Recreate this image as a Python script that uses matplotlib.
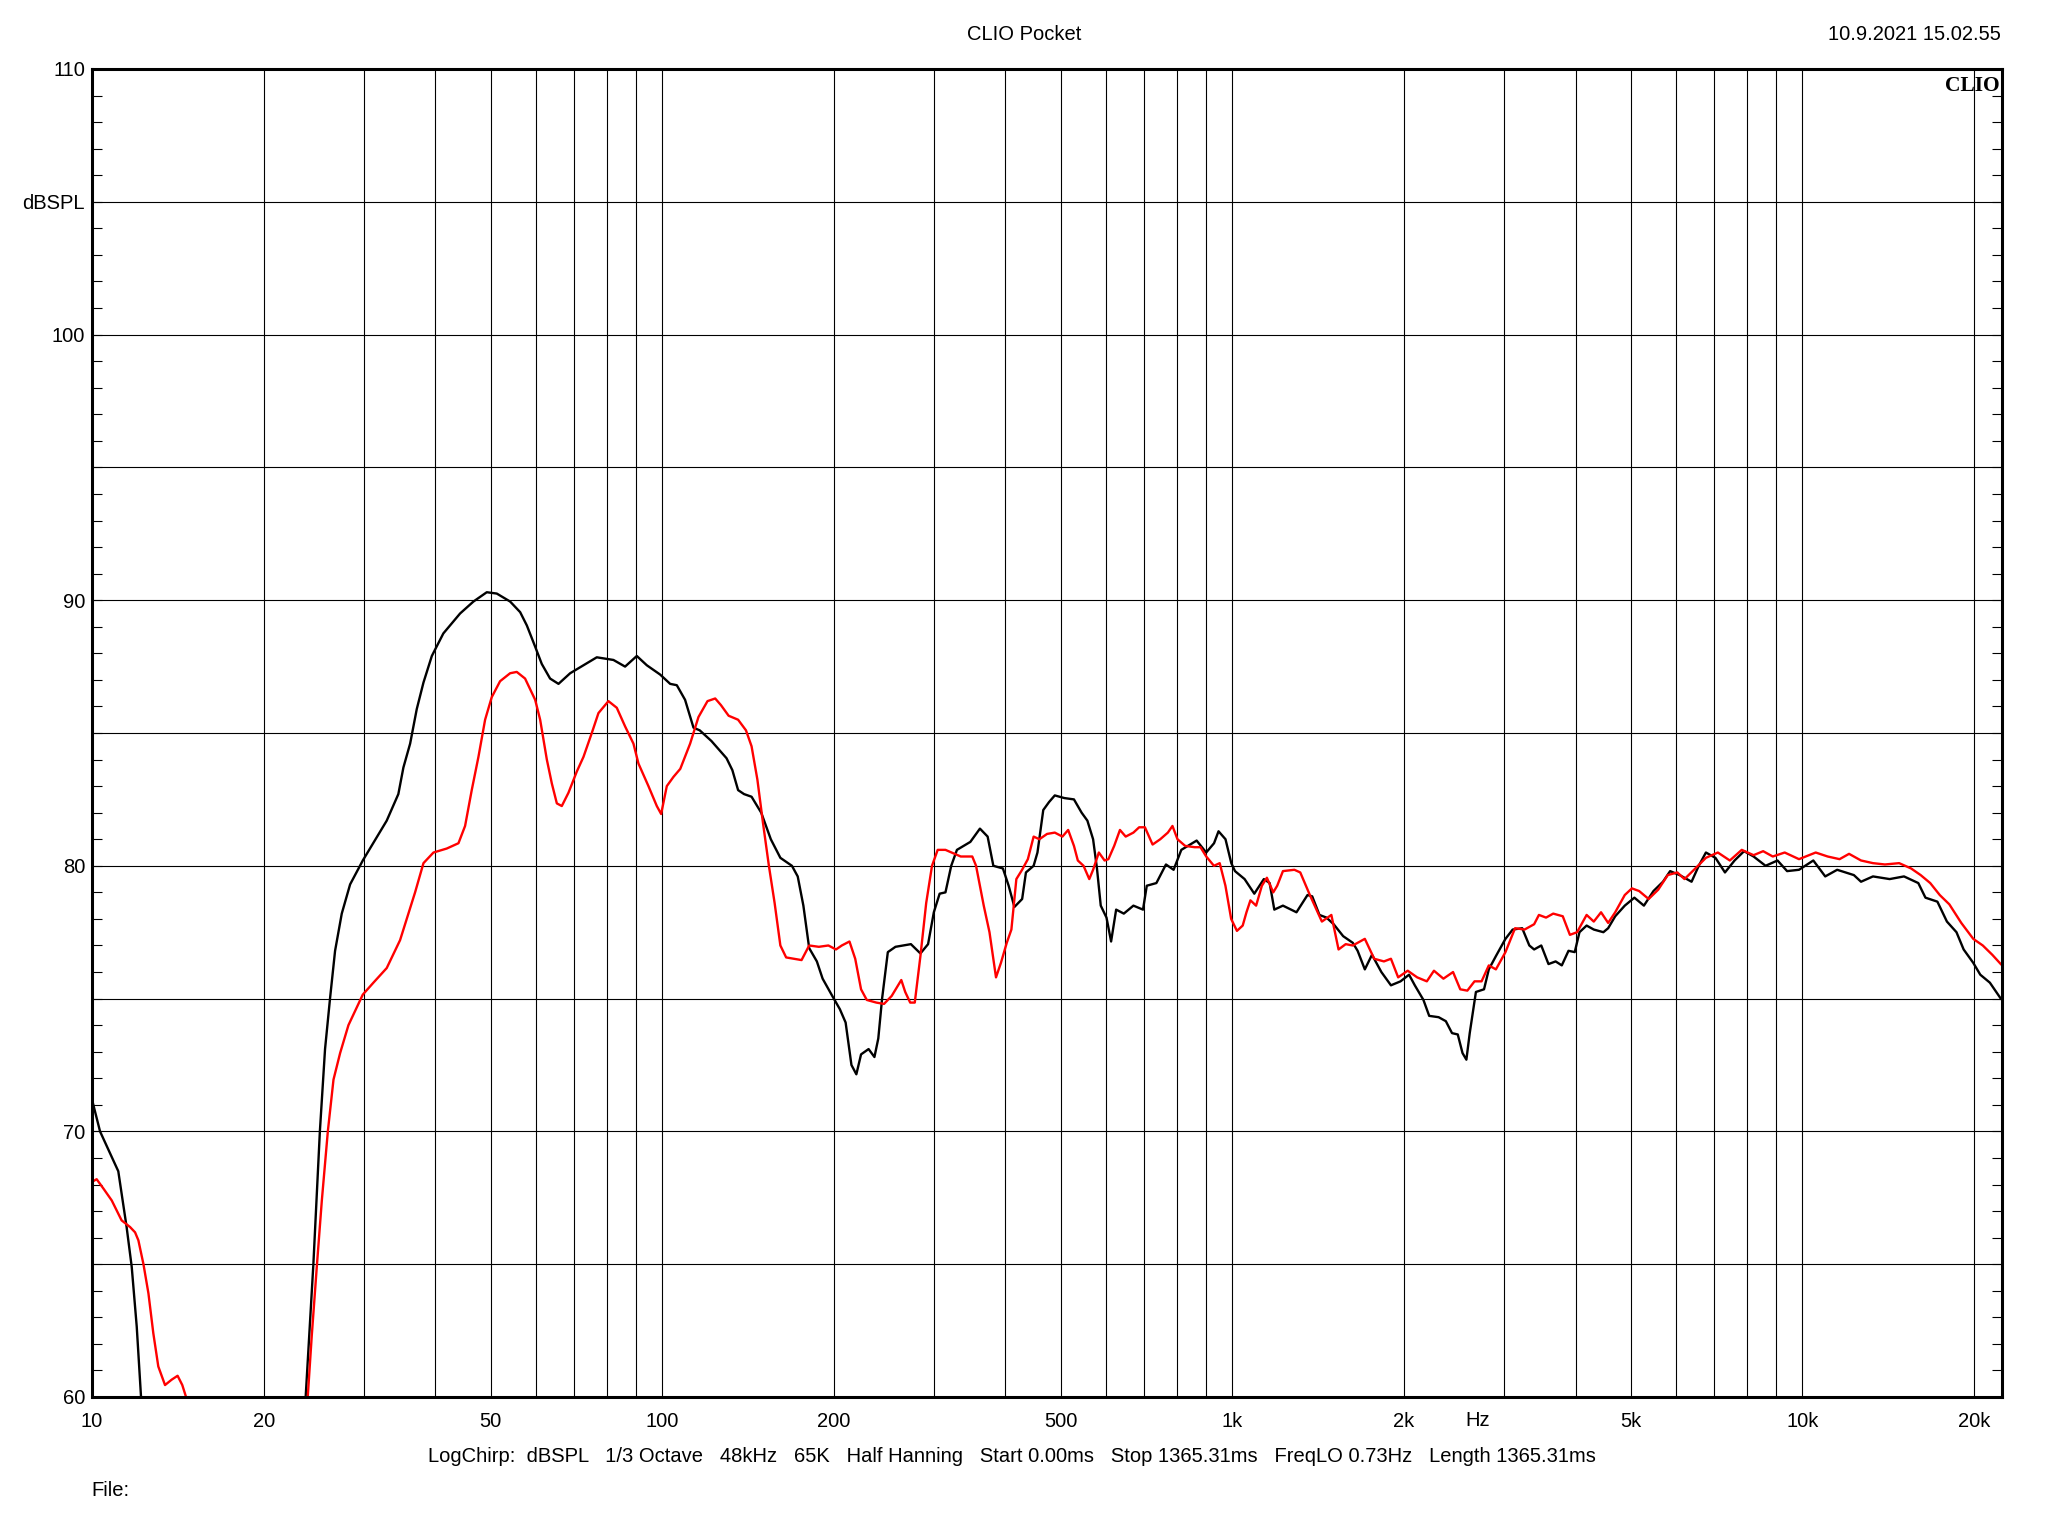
import numpy as np
import matplotlib
matplotlib.use('Agg')
from matplotlib import pyplot as plt
from matplotlib.ticker import FixedLocator, MultipleLocator, NullFormatter

plt.rcParams['font.family'] = ['Liberation Sans', 'DejaVu Sans']

# black trace (below 60 dB between the two parts)
black_lo_f = [10.0, 10.33, 11.12, 11.5, 11.74, 11.98, 12.19]
black_lo_db = [71.2, 70.0, 68.5, 66.4, 64.9, 62.65, 60.0]

black_f = [23.7, 24.45, 25.1, 25.63, 26.15, 26.69, 27.42, 28.36, 29.85, 32.88, 34.46, 35.17,
           36.14, 37.12, 38.14, 39.45, 41.33, 44.22, 46.67, 49.25, 51.28, 54.12, 56.36, 57.9,
           59.88, 61.5, 63.6, 65.8, 68.97, 72.78, 76.8, 82.15, 86.1, 90.27, 94.0, 99.2,
           103.3, 106.1, 109.7, 113.5, 116.4, 122, 129.7, 132.8, 135.9, 139.2, 143.5, 149.2,
           155.1, 161.2, 168.9, 172.9, 176.9, 181.1, 186.8, 191.2, 198.8, 205, 209.8, 214.8,
           219.1, 223.3, 230.2, 235.7, 239.4, 243.1, 248.8, 256.6, 273.1, 283.8, 292.7, 299.6,
           306.7, 314, 321.4, 328.9, 347.2, 360.9, 372.3, 381, 396, 405.3, 414.8, 428,
           434.6, 448.3, 455.3, 466.1, 477.1, 488.3, 507.6, 527.6, 544.2, 557, 570, 579,
           587.9, 601.7, 613, 625.6, 645.3, 670.8, 697.3, 708, 736, 765, 789, 814,
           866, 900, 929, 946, 973, 996, 1011, 1051, 1093, 1136, 1163, 1185,
           1227, 1296, 1355, 1381, 1422, 1463, 1506, 1565, 1627, 1659, 1708, 1758,
           1826, 1898, 1973, 2042, 2090, 2164, 2215, 2301, 2369, 2429, 2486, 2534,
           2574, 2609, 2675, 2764, 2818, 2900, 3014, 3103, 3225, 3319, 3384, 3483,
           3586, 3691, 3784, 3888, 3987, 4064, 4183, 4306, 4476, 4563, 4695, 4880,
           5073, 5272, 5480, 5694, 5861, 6091, 6391, 6579, 6772, 7038, 7314, 7603,
           7901, 8210, 8617, 9043, 9400, 9863, 10450, 10965, 11507, 12310, 12670, 13297,
           14223, 15072, 15968, 16436, 17248, 17925, 18630, 19177, 19930, 20510, 21320, 22280]
black_db = [60.0, 65.0, 70.0, 73.1, 75.0, 76.8, 78.2, 79.3, 80.2, 81.7, 82.7, 83.7,
            84.6, 85.9, 86.9, 87.9, 88.75, 89.5, 89.95, 90.3, 90.25, 89.95, 89.55, 89.05,
            88.25, 87.6, 87.05, 86.85, 87.25, 87.55, 87.85, 87.75, 87.5, 87.9, 87.55, 87.2,
            86.85, 86.8, 86.25, 85.2, 85.1, 84.7, 84.05, 83.6, 82.85, 82.7, 82.6, 82.0,
            81.0, 80.3, 80.0, 79.6, 78.5, 76.9, 76.4, 75.75, 75.1, 74.6, 74.1, 72.5,
            72.15, 72.9, 73.1, 72.8, 73.5, 75.0, 76.75, 76.95, 77.05, 76.7, 77.05, 78.25,
            78.95, 79.0, 80.0, 80.6, 80.9, 81.4, 81.1, 80.0, 79.9, 79.25, 78.45, 78.75,
            79.75, 80.0, 80.5, 82.1, 82.4, 82.65, 82.55, 82.5, 82.0, 81.7, 81.0, 79.9,
            78.5, 78.05, 77.15, 78.35, 78.2, 78.5, 78.35, 79.25, 79.35, 80.05, 79.85, 80.6,
            80.95, 80.5, 80.85, 81.3, 81.0, 80.1, 79.8, 79.5, 78.95, 79.5, 79.35, 78.35,
            78.5, 78.25, 78.9, 78.85, 78.15, 78.05, 77.8, 77.35, 77.1, 76.8, 76.1, 76.65,
            76.0, 75.5, 75.65, 75.9, 75.5, 74.95, 74.35, 74.3, 74.15, 73.7, 73.65, 72.95,
            72.7, 73.7, 75.25, 75.35, 76.1, 76.6, 77.25, 77.6, 77.65, 77.0, 76.85, 77.0,
            76.3, 76.4, 76.25, 76.8, 76.75, 77.5, 77.75, 77.6, 77.5, 77.65, 78.1, 78.5,
            78.8, 78.5, 79.05, 79.4, 79.8, 79.65, 79.4, 80.0, 80.5, 80.3, 79.75, 80.2,
            80.55, 80.35, 80.0, 80.2, 79.8, 79.85, 80.2, 79.6, 79.85, 79.65, 79.4, 79.6,
            79.5, 79.6, 79.35, 78.8, 78.65, 77.9, 77.5, 76.85, 76.35, 75.9, 75.6, 75.0]

# red trace
red_lo_f = [10.0, 10.19, 10.47, 10.83, 11.27, 11.66, 11.9, 12.06, 12.31, 12.56, 12.81, 13.07,
            13.43, 13.79, 14.13, 14.4, 14.62]
red_lo_db = [68.1, 68.2, 67.85, 67.4, 66.65, 66.4, 66.2, 65.9, 65.0, 63.9, 62.4, 61.15,
             60.45, 60.65, 60.8, 60.45, 60.0]

red_f = [23.9, 24.29, 24.79, 25.3, 25.92, 26.52, 27.24, 28.17, 29.85, 31.16, 32.88, 34.7,
         35.65, 36.87, 38.14, 39.71, 41.9, 43.93, 45.12, 46.35, 47.62, 48.92, 50.25, 51.97,
         54.12, 55.59, 57.49, 59.88, 61.1, 62.77, 64.05, 65.36, 66.68, 68.5, 70.85, 72.78,
         75.27, 77.32, 80.5, 83.26, 86.1, 89.06, 90.88, 94.62, 97.87, 99.6, 101.9, 104.7,
         107.6, 111.97, 115.8, 120.1, 123.9, 126.8, 130.8, 135.9, 140.3, 143.5, 146.9, 150.3,
         153.9, 157.5, 161.2, 165, 170.2, 175.6, 181.1, 188.3, 195.7, 201.8, 206.6, 213.1,
         218.1, 223.3, 228.5, 237.5, 245, 252.7, 262.7, 266.9, 272.3, 277.4, 283.8, 290.5,
         297.4, 304.3, 314, 334, 349.9, 355.3, 366.5, 375.1, 385.1, 392.9, 402.2, 409.8,
         418.1, 427.9, 438, 448.3, 458.8, 473.3, 488.3, 503.6, 515.4, 527.6, 535.9, 548.4,
         561.3, 570, 583.4, 597.1, 606.4, 620.7, 635.3, 650.2, 670.8, 686.5, 702.7, 724.8,
         747.6, 770.9, 785.4, 801.5, 826.6, 859.2, 879.4, 900.2, 928.6, 950.5, 972.7, 995.5,
         1019, 1043, 1059, 1076, 1101, 1127, 1150, 1180, 1199, 1227, 1285, 1316,
         1368, 1436, 1492, 1536, 1581, 1627, 1708, 1774, 1845, 1898, 1954, 2031,
         2110, 2194, 2258, 2346, 2439, 2511, 2584, 2660, 2737, 2818, 2900, 3014,
         3133, 3256, 3384, 3450, 3551, 3655, 3799, 3910, 4025, 4183, 4306, 4434,
         4563, 4695, 4880, 5023, 5171, 5374, 5585, 5805, 6034, 6211, 6454, 6772,
         7107, 7459, 7827, 8210, 8533, 8872, 9309, 9863, 10551, 11073, 11619, 12073,
         12670, 13297, 13952, 14779, 15510, 16122, 16756, 17413, 18099, 18994, 19935, 20718,
         21528, 22280]
red_db = [60.0, 62.3, 64.9, 67.4, 70.0, 71.95, 72.95, 74.0, 75.15, 75.6, 76.15, 77.2,
          78.0, 79.0, 80.1, 80.5, 80.65, 80.85, 81.5, 82.85, 84.1, 85.5, 86.35, 86.95,
          87.25, 87.3, 87.05, 86.25, 85.5, 84.0, 83.1, 82.35, 82.25, 82.75, 83.55, 84.1,
          85.0, 85.75, 86.2, 85.95, 85.25, 84.6, 83.85, 83.0, 82.25, 81.95, 83.0, 83.35,
          83.65, 84.6, 85.6, 86.2, 86.3, 86.05, 85.65, 85.5, 85.1, 84.5, 83.25, 81.6,
          80.0, 78.6, 77.0, 76.55, 76.5, 76.45, 77.0, 76.95, 77.0, 76.85, 77.0, 77.15,
          76.5, 75.35, 74.95, 74.85, 74.8, 75.1, 75.7, 75.25, 74.85, 74.85, 76.6, 78.6,
          80.0, 80.6, 80.6, 80.35, 80.35, 80.0, 78.5, 77.5, 75.8, 76.35, 77.1, 77.6,
          79.5, 79.85, 80.25, 81.1, 81.0, 81.2, 81.25, 81.1, 81.35, 80.75, 80.2, 80.0,
          79.5, 79.85, 80.5, 80.2, 80.25, 80.75, 81.35, 81.1, 81.25, 81.45, 81.45, 80.8,
          81.0, 81.25, 81.5, 81.0, 80.75, 80.7, 80.7, 80.35, 80.0, 80.1, 79.25, 78.0,
          77.55, 77.75, 78.25, 78.7, 78.5, 79.25, 79.55, 79.0, 79.25, 79.8, 79.85, 79.75,
          78.9, 77.9, 78.15, 76.85, 77.05, 77.0, 77.25, 76.5, 76.4, 76.5, 75.8, 76.05,
          75.8, 75.65, 76.05, 75.75, 76.0, 75.35, 75.3, 75.65, 75.65, 76.25, 76.1, 76.75,
          77.65, 77.6, 77.8, 78.15, 78.05, 78.2, 78.1, 77.4, 77.5, 78.15, 77.9, 78.25,
          77.85, 78.25, 78.9, 79.15, 79.05, 78.75, 79.1, 79.65, 79.75, 79.5, 79.85, 80.3,
          80.5, 80.2, 80.6, 80.4, 80.55, 80.35, 80.5, 80.25, 80.5, 80.35, 80.25, 80.45,
          80.2, 80.1, 80.05, 80.1, 79.9, 79.65, 79.35, 78.9, 78.55, 77.85, 77.25, 77.0,
          76.65, 76.3]

x_ticks = [10, 20, 50, 100, 200, 500, 1000, 2000, 5000, 10000, 20000]
x_labels = ['10', '20', '50', '100', '200', '500', '1k', '2k', '5k', '10k', '20k']
y_ticks = [60, 65, 70, 75, 80, 85, 90, 95, 100, 105, 110]
y_labels = ['60', '', '70', '', '80', '', '90', '', '100', 'dBSPL', '110']

footer = ('LogChirp:  dBSPL   1/3 Octave   48kHz   65K   Half Hanning   Start 0.00ms   '
          'Stop 1365.31ms   FreqLO 0.73Hz   Length 1365.31ms')

fs = 14.5

fig = plt.figure(figsize=(20.48, 15.36), dpi=100)
ax = fig.add_axes([92 / 2048, 1 - 1397 / 1536, 1910 / 2048, 1328 / 1536])
ax.set_xscale('log')
ax.set_xlim(10, 22390)
ax.set_ylim(60, 110)

# all 1..9 multiples get a vertical grid line
minor = [m * 10 ** e for e in range(1, 5) for m in range(1, 10)
         if 10 < m * 10 ** e < 22390 and m * 10 ** e not in x_ticks]
ax.xaxis.set_major_locator(FixedLocator(x_ticks))
ax.set_xticklabels(x_labels)
ax.xaxis.set_minor_locator(FixedLocator(minor))
ax.xaxis.set_minor_formatter(NullFormatter())
ax.set_yticks(y_ticks)
ax.set_yticklabels(y_labels)
ax.yaxis.set_minor_locator(MultipleLocator(1))

ax.grid(True, axis='x', which='both', color='black', linewidth=0.8)
ax.grid(True, axis='y', which='major', color='black', linewidth=0.8)
ax.set_axisbelow(True)

ax.tick_params(axis='x', which='both', length=0, pad=11, labelsize=fs)
ax.tick_params(axis='y', which='both', direction='in', left=True, right=True,
               length=7, width=0.8, labelsize=fs, pad=5)
for s in ax.spines.values():
    s.set_linewidth(2.2)

ax.plot(black_lo_f, black_lo_db, color='black', lw=1.7)
ax.plot(black_f, black_db, color='black', lw=1.7)
ax.plot(red_lo_f, red_lo_db, color='#ff0000', lw=1.7)
ax.plot(red_f, red_db, color='#ff0000', lw=1.7)

ax.text(0.999, 0.995, 'CLIO', transform=ax.transAxes, ha='right', va='top',
        family='Liberation Serif', fontweight='bold', fontsize=15.5)

fig.text(1478 / 2048, 1 - 1420 / 1536, 'Hz', ha='center', va='center', fontsize=fs)
fig.text(0.5, 1 - 35 / 1536, 'CLIO Pocket', ha='center', va='center', fontsize=fs)
fig.text(2001 / 2048, 1 - 35 / 1536, '10.9.2021 15.02.55', ha='right', va='center', fontsize=fs)
fig.text(0.494, 1 - 1457 / 1536, footer, ha='center', va='center', fontsize=fs)
fig.text(91 / 2048, 1 - 1491 / 1536, 'File:', ha='left', va='center', fontsize=fs)

fig.savefig('out.png', dpi=100)
